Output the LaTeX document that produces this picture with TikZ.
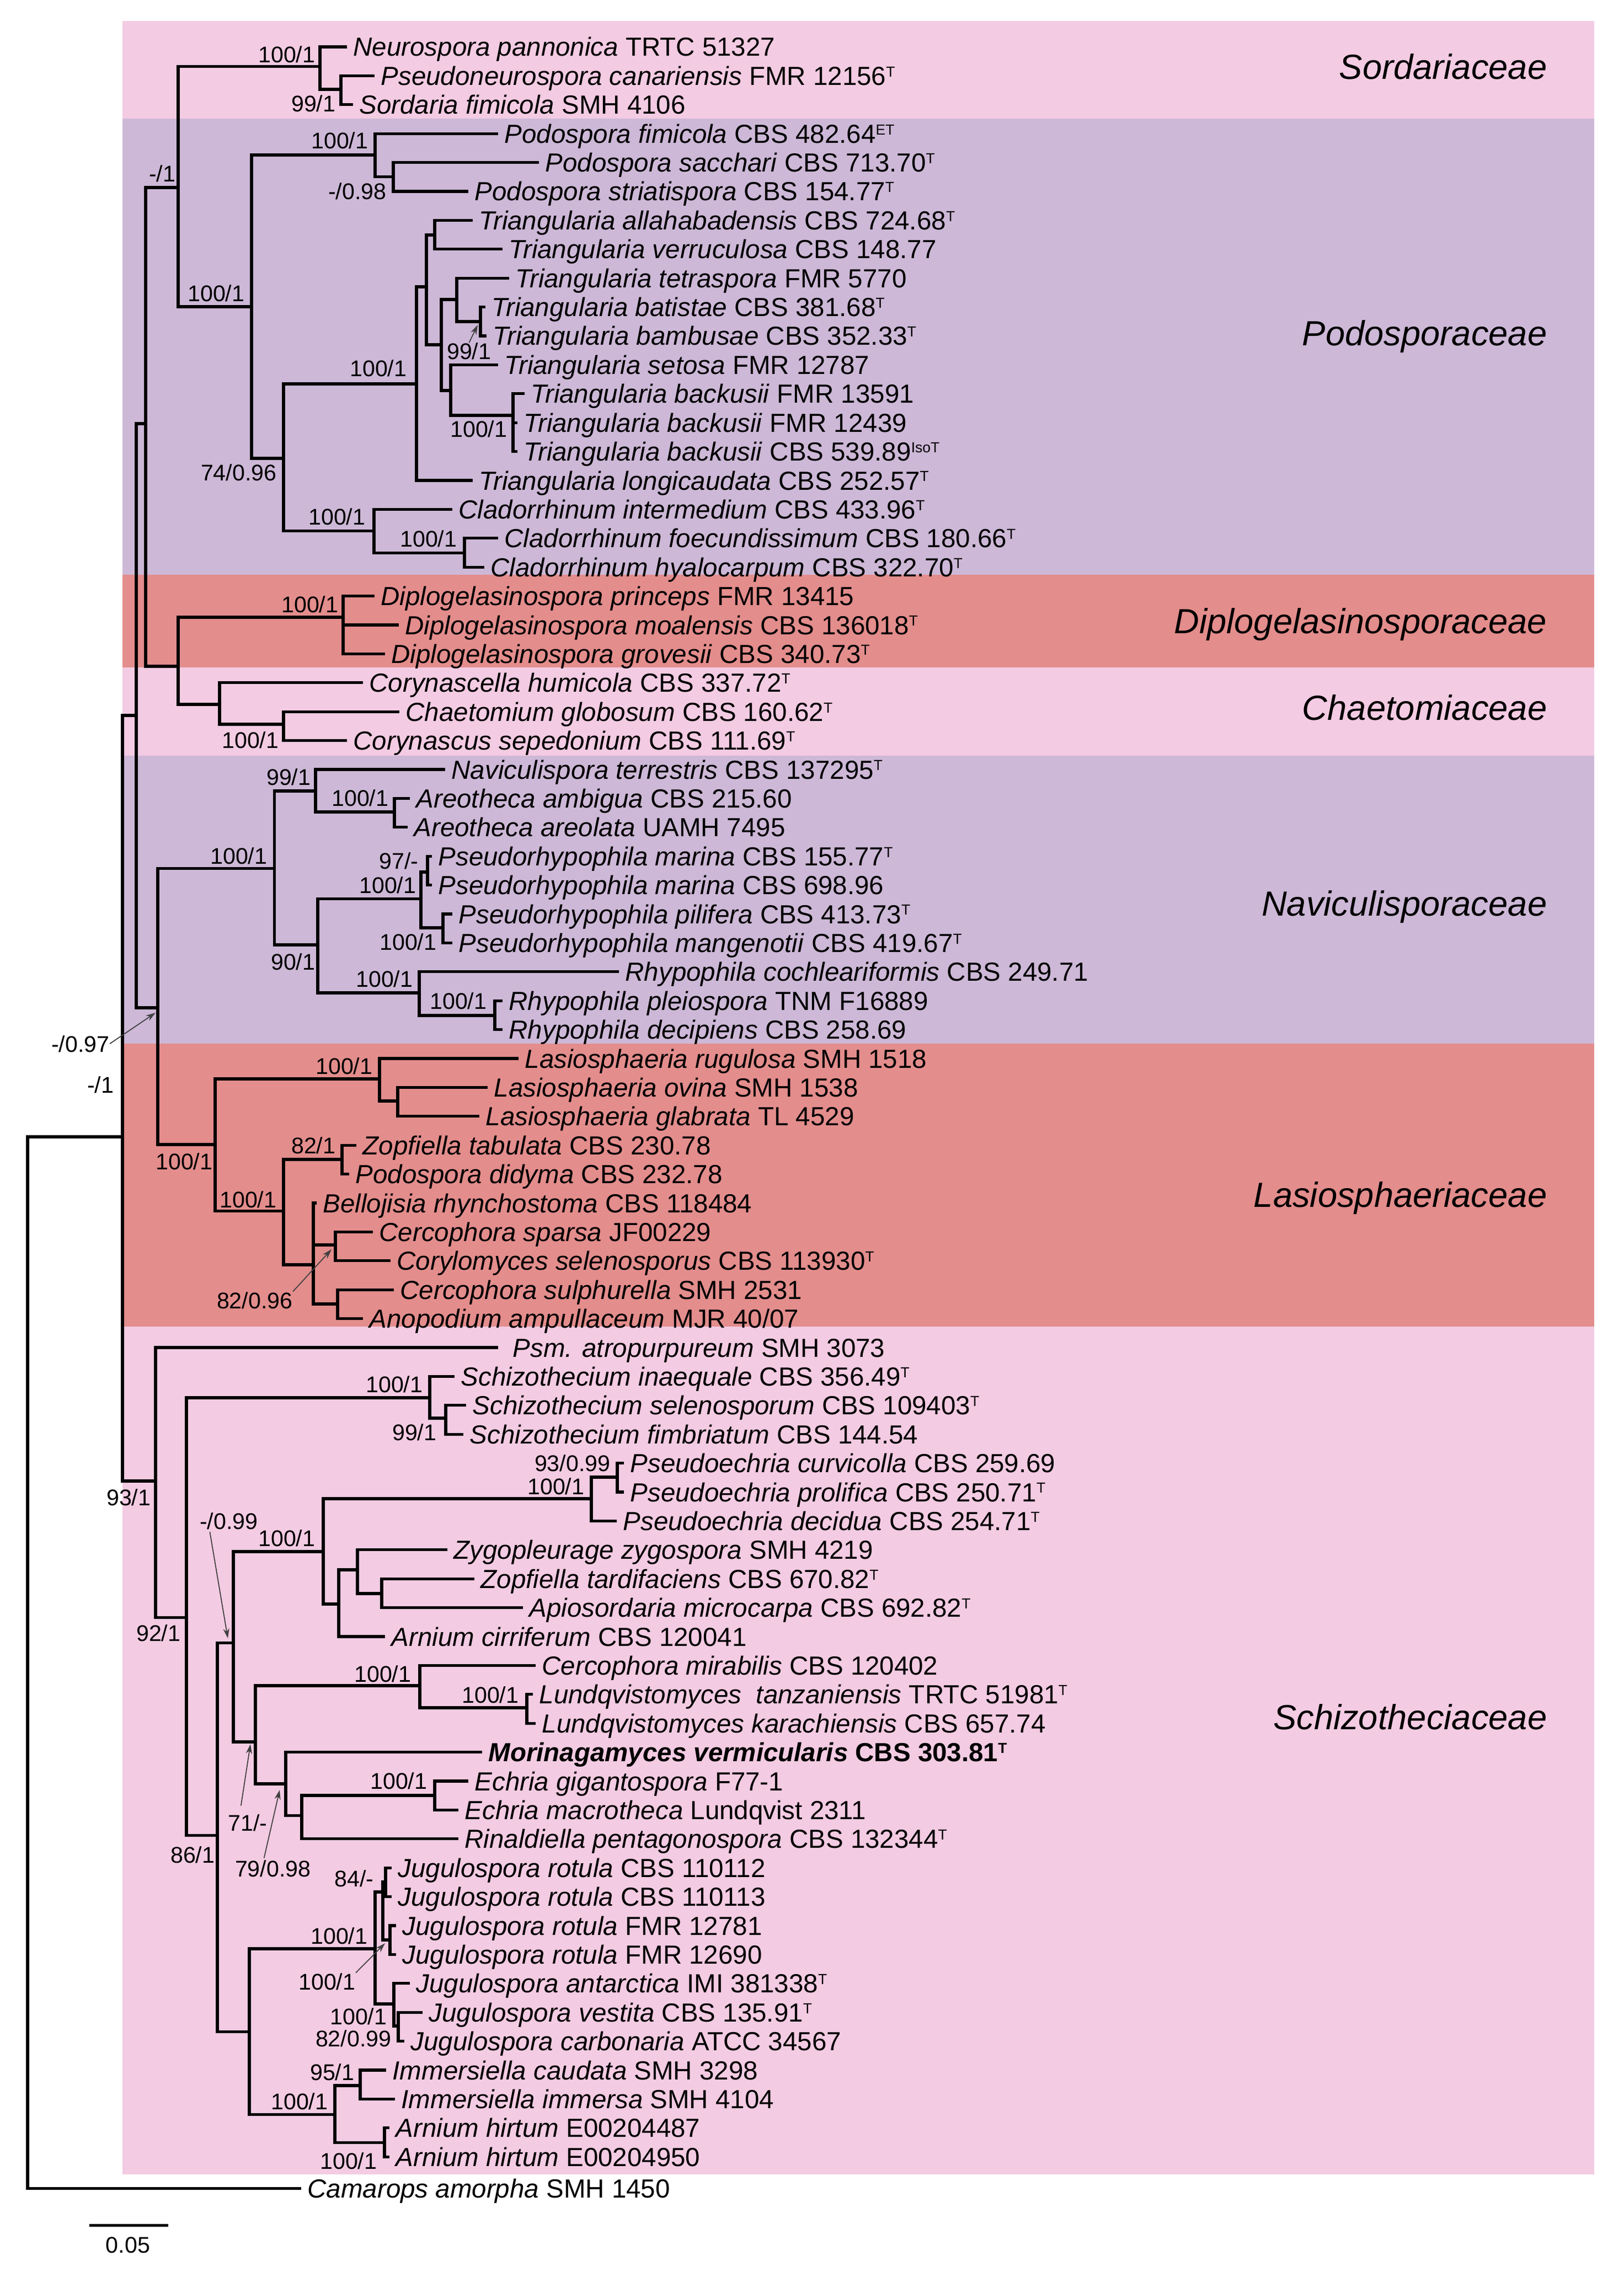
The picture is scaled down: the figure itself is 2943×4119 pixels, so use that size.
\documentclass[tikz,border=0pt]{standalone}
\usepackage{fontspec}
\setmainfont{Liberation Sans}
\usetikzlibrary{calc,arrows.meta}
\definecolor{bpink}{HTML}{F3CBE2}
\definecolor{blav}{HTML}{CDB8D7}
\definecolor{bsal}{HTML}{E38D8C}
\newcommand{\sps}[1]{\raisebox{4.3pt}{\fontsize{7.5}{8}\selectfont #1}}
\newcommand{\mynode}[4]{\coordinate (#1) at (#3,#4); \draw[br] (#2) |- (#1);}
\newcommand{\mytip}[5]{\coordinate (#1) at (#3,#4); \draw[br] (#2) |- (#1); \node[taxon] (#1t) at ($(#1)+(14,17)$) {#5};}
\begin{document}
\begin{tikzpicture}[x=0.01cm,y=-0.01cm,
  br/.style={line width=1.45pt, line join=miter, line cap=rect},
  taxon/.style={font=\fontsize{13.5}{16}\selectfont, inner sep=0pt, anchor=base west},
  lab/.style={font=\fontsize{11.7}{13}\selectfont, inner sep=0pt, anchor=base east},
  fam/.style={font=\fontsize{18}{21}\selectfont\itshape, inner sep=0pt, anchor=base east},
  arr/.style={line width=0.5pt, draw=black!75, -{Stealth[length=5pt,width=3.2pt]}}]
\useasboundingbox (0,0) rectangle (2943,4119);
\fill[white] (0,0) rectangle (2943,4119);
% family bands
\fill[bpink] (222,38) rectangle (2890,215);
\fill[blav] (222,215) rectangle (2890,1042);
\fill[bsal] (222,1042) rectangle (2890,1210);
\fill[bpink] (222,1210) rectangle (2890,1370);
\fill[blav] (222,1370) rectangle (2890,1891.5);
\fill[bsal] (222,1891.5) rectangle (2890,2404.5);
\fill[bpink] (222,2404.5) rectangle (2890,3942);
\node[fam] (fSor) at (2805,144) {Sordariaceae};
\node[fam] (fPod) at (2805,627) {Podosporaceae};
\node[fam] (fDip) at (2805,1148) {Diplogelasinosporaceae};
\node[fam] (fCha) at (2805,1305) {Chaetomiaceae};
\node[fam] (fNav) at (2805,1660) {Naviculisporaceae};
\node[fam] (fLas) at (2805,2188) {Lasiosphaeriaceae};
\node[fam] (fSch) at (2805,3135) {Schizotheciaceae};
% backbone
\coordinate (R) at (50,2061);
\mynode{ING}{R}{222}{2061}
\mynode{B}{ING}{247}{1297}
\mynode{C}{B}{264}{768}
\mynode{A}{C}{323}{340}
% Sordariaceae
\mynode{S1}{A}{580}{120.5}
\mynode{S2}{S1}{618}{162}
\mytip{t1}{S1}{626}{85}{\textit{Neurospora pannonica} TRTC 51327}
\mytip{t2}{S2}{676}{137.4}{\textit{Pseudoneurospora canariensis} FMR 12156\sps{T}}
\mytip{t3}{S2}{637}{189.8}{\textit{Sordaria fimicola} SMH 4106}
% Podosporaceae
\mynode{P0}{A}{456}{556}
\mynode{P1}{P0}{680}{281}
\mynode{P2}{P1}{713}{320.5}
\mynode{P3}{P0}{514}{831}
\mynode{T0}{P3}{755}{696}
\mynode{T1}{T0}{773}{520}
\mynode{Ta}{T1}{788}{426}
\mynode{Tb}{T1}{800}{625}
\mynode{Tc}{Tb}{828}{543}
\mynode{Td}{Tc}{871}{583}
\mynode{Te}{Tb}{817}{708}
\mynode{Tf}{Te}{930}{753}
\mynode{C1}{P3}{678}{962.5}
\mynode{C2}{C1}{842}{1002.7}
\mytip{t4}{P1}{900}{242.2}{\textit{Podospora fimicola} CBS 482.64\sps{ET}}
\mytip{t5}{P2}{974}{294.6}{\textit{Podospora sacchari} CBS 713.70\sps{T}}
\mytip{t6}{P2}{846}{347}{\textit{Podospora striatispora} CBS 154.77\sps{T}}
\mytip{t7}{Ta}{854}{399.4}{\textit{Triangularia allahabadensis} CBS 724.68\sps{T}}
\mytip{t8}{Ta}{908}{451.8}{\textit{Triangularia verruculosa} CBS 148.77}
\mytip{t9}{Tc}{920}{504.2}{\textit{Triangularia tetraspora} FMR 5770}
\mytip{t10}{Td}{877}{556.6}{\textit{Triangularia batistae} CBS 381.68\sps{T}}
\mytip{t11}{Td}{879}{609}{\textit{Triangularia bambusae} CBS 352.33\sps{T}}
\mytip{t12}{Te}{900}{661.4}{\textit{Triangularia setosa} FMR 12787}
\mytip{t13}{Tf}{948}{713.8}{\textit{Triangularia backusii} FMR 13591}
\mytip{t14}{Tf}{935}{766.2}{\textit{Triangularia backusii} FMR 12439}
\mytip{t15}{Tf}{935}{818.6}{\textit{Triangularia backusii} CBS 539.89\sps{IsoT}}
\mytip{t16}{T0}{854}{871}{\textit{Triangularia longicaudata} CBS 252.57\sps{T}}
\mytip{t17}{C1}{817}{923.4}{\textit{Cladorrhinum intermedium} CBS 433.96\sps{T}}
\mytip{t18}{C2}{900}{975.8}{\textit{Cladorrhinum foecundissimum} CBS 180.66\sps{T}}
\mytip{t19}{C2}{875}{1028.2}{\textit{Cladorrhinum hyalocarpum} CBS 322.70\sps{T}}
% Diplogelasinosporaceae + Chaetomiaceae
\mynode{D0}{C}{323}{1208}
\mynode{Dip}{D0}{622}{1119}
\mynode{Ch1}{D0}{398}{1277}
\mynode{Ch2}{Ch1}{514}{1313}
\mytip{t20}{Dip}{676}{1080.6}{\textit{Diplogelasinospora princeps} FMR 13415}
\mytip{t21}{Dip}{720}{1133}{\textit{Diplogelasinospora moalensis} CBS 136018\sps{T}}
\mytip{t22}{Dip}{695}{1185.4}{\textit{Diplogelasinospora grovesii} CBS 340.73\sps{T}}
\mytip{t23}{Ch1}{655}{1237.8}{\textit{Corynascella humicola} CBS 337.72\sps{T}}
\mytip{t24}{Ch2}{721}{1290.2}{\textit{Chaetomium globosum} CBS 160.62\sps{T}}
\mytip{t25}{Ch2}{626}{1342.6}{\textit{Corynascus sepedonium} CBS 111.69\sps{T}}
% Naviculisporaceae
\mynode{NL}{B}{286}{1827}
\mynode{N0}{NL}{497.5}{1574.5}
\mynode{N1}{N0}{572}{1434}
\mynode{N2}{N1}{715}{1472}
\mynode{N3}{N0}{576}{1713}
\mynode{N4}{N3}{763}{1629.5}
\mynode{N5}{N4}{775}{1581}
\mynode{N6}{N4}{803}{1682}
\mynode{N7}{N3}{760}{1800}
\mynode{N8}{N7}{897}{1841}
\mytip{t26}{N1}{804}{1395}{\textit{Naviculispora terrestris} CBS 137295\sps{T}}
\mytip{t27}{N2}{740}{1447.4}{\textit{Areotheca ambigua} CBS 215.60}
\mytip{t28}{N2}{736}{1499.8}{\textit{Areotheca areolata} UAMH 7495}
\mytip{t29}{N5}{780}{1552.2}{\textit{Pseudorhypophila marina} CBS 155.77\sps{T}}
\mytip{t30}{N5}{780}{1604.6}{\textit{Pseudorhypophila marina} CBS 698.96}
\mytip{t31}{N6}{817}{1657}{\textit{Pseudorhypophila pilifera} CBS 413.73\sps{T}}
\mytip{t32}{N6}{817}{1709.4}{\textit{Pseudorhypophila mangenotii} CBS 419.67\sps{T}}
\mytip{t33}{N7}{1119}{1761.8}{\textit{Rhypophila cochleariformis} CBS 249.71}
\mytip{t34}{N8}{908}{1814.2}{\textit{Rhypophila pleiospora} TNM F16889}
\mytip{t35}{N8}{908}{1866.6}{\textit{Rhypophila decipiens} CBS 258.69}
% Lasiosphaeriaceae
\mynode{L1}{NL}{390}{2075}
\mynode{L2}{L1}{688}{1956}
\mynode{L3}{L2}{721}{1996}
\mynode{L4}{L1}{514}{2195.5}
\mynode{L5}{L4}{620}{2102}
\mynode{L6}{L4}{568}{2293}
\mynode{L7}{L6}{608}{2257}
\mynode{L8}{L6}{612}{2364}
\mytip{t36}{L2}{937}{1919}{\textit{Lasiosphaeria rugulosa} SMH 1518}
\mytip{t37}{L3}{881}{1971.4}{\textit{Lasiosphaeria ovina} SMH 1538}
\mytip{t38}{L3}{866}{2023.8}{\textit{Lasiosphaeria glabrata} TL 4529}
\mytip{t39}{L5}{643}{2076.2}{\textit{Zopfiella tabulata} CBS 230.78}
\mytip{t40}{L5}{630}{2128.6}{\textit{Podospora didyma} CBS 232.78}
\mytip{t41}{L6}{571}{2181}{\textit{Bellojisia rhynchostoma} CBS 118484}
\mytip{t42}{L7}{673}{2233.4}{\textit{Cercophora sparsa} JF00229}
\mytip{t43}{L7}{705}{2285.8}{\textit{Corylomyces selenosporus} CBS 113930\sps{T}}
\mytip{t44}{L8}{711}{2338.2}{\textit{Cercophora sulphurella} SMH 2531}
\mytip{t45}{L8}{655}{2390.6}{\textit{Anopodium ampullaceum} MJR 40/07}
% Schizotheciaceae
\mynode{Z0}{ING}{282}{2685}
\mynode{Z1}{Z0}{338}{2932.6}
\mynode{SC0}{Z1}{779}{2534}
\mynode{SC1}{SC0}{808}{2571}
\mynode{Z2}{Z1}{394}{3327.6}
\mynode{Z3}{Z2}{423}{2978.6}
\mynode{Z4}{Z3}{586}{2813}
\mynode{Z5}{Z4}{1072}{2717}
\mynode{Z6}{Z5}{1119}{2678}
\mynode{Z7}{Z4}{614}{2908}
\mynode{Z8}{Z7}{648}{2846}
\mynode{Z9}{Z8}{692}{2889}
\mynode{Z10}{Z3}{463}{3158}
\mynode{Z11}{Z10}{761}{3056}
\mynode{Z12}{Z11}{955}{3096}
\mynode{Z13}{Z10}{518}{3234}
\mynode{Z14}{Z13}{547}{3291.6}
\mynode{Z15}{Z14}{788}{3255}
\mynode{Z16}{Z2}{452}{3683.5}
\mynode{J0}{Z16}{680}{3533}
\mynode{J1}{J0}{694}{3430}
\mynode{J2}{J1}{699}{3412}
\mynode{J3}{J1}{707}{3517}
\mynode{J4}{J0}{714}{3633}
\mynode{J5}{J4}{722}{3673}
\mynode{I0}{Z16}{607}{3833}
\mynode{I1}{I0}{653}{3781}
\mynode{I2}{I0}{697}{3884.7}
\coordinate (t46) at (900,2443); \draw[br] (Z0) |- (t46);
\node[taxon] (t46t) at ($(t46)+(29,17)$) {\textit{Psm. atropurpureum} SMH 3073};
\mytip{t47}{SC0}{821}{2495.4}{\textit{Schizothecium inaequale} CBS 356.49\sps{T}}
\mytip{t48}{SC1}{842}{2547.8}{\textit{Schizothecium selenosporum} CBS 109403\sps{T}}
\mytip{t49}{SC1}{837}{2600.2}{\textit{Schizothecium fimbriatum} CBS 144.54}
\mytip{t50}{Z6}{1128}{2652.6}{\textit{Pseudoechria curvicolla} CBS 259.69}
\mytip{t51}{Z6}{1128}{2705}{\textit{Pseudoechria prolifica} CBS 250.71\sps{T}}
\mytip{t52}{Z5}{1115}{2757.4}{\textit{Pseudoechria decidua} CBS 254.71\sps{T}}
\mytip{t53}{Z8}{808}{2809.8}{\textit{Zygopleurage zygospora} SMH 4219}
\mytip{t54}{Z9}{857}{2862.2}{\textit{Zopfiella tardifaciens} CBS 670.82\sps{T}}
\mytip{t55}{Z9}{945}{2914.6}{\textit{Apiosordaria microcarpa} CBS 692.82\sps{T}}
\mytip{t56}{Z7}{695}{2967}{\textit{Arnium cirriferum} CBS 120041}
\mytip{t57}{Z11}{968}{3019.4}{\textit{Cercophora mirabilis} CBS 120402}
\mytip{t58}{Z12}{963}{3071.8}{\textit{Lundqvistomyces\ \ tanzaniensis} TRTC 51981\sps{T}}
\mytip{t59}{Z12}{968}{3124.2}{\textit{Lundqvistomyces karachiensis} CBS 657.74}
\mytip{t60}{Z13}{871}{3176.6}{\textbf{\textit{Morinagamyces vermicularis} CBS 303.81\sps{T}}}
\mytip{t61}{Z15}{846}{3229}{\textit{Echria gigantospora} F77-1}
\mytip{t62}{Z15}{828}{3281.4}{\textit{Echria macrotheca} Lundqvist 2311}
\mytip{t63}{Z14}{828}{3333.8}{\textit{Rinaldiella pentagonospora} CBS 132344\sps{T}}
\mytip{t64}{J2}{707}{3386.2}{\textit{Jugulospora rotula} CBS 110112}
\mytip{t65}{J2}{707}{3438.6}{\textit{Jugulospora rotula} CBS 110113}
\mytip{t66}{J3}{715}{3491}{\textit{Jugulospora rotula} FMR 12781}
\mytip{t67}{J3}{715}{3543.4}{\textit{Jugulospora rotula} FMR 12690}
\mytip{t68}{J4}{740}{3595.8}{\textit{Jugulospora antarctica} IMI 381338\sps{T}}
\mytip{t69}{J5}{763}{3648.2}{\textit{Jugulospora vestita} CBS 135.91\sps{T}}
\mytip{t70}{J5}{730}{3700.6}{\textit{Jugulospora carbonaria} ATCC 34567}
\mytip{t71}{I1}{697}{3753}{\textit{Immersiella caudata} SMH 3298}
\mytip{t72}{I1}{713}{3805.4}{\textit{Immersiella immersa} SMH 4104}
\mytip{t73}{I2}{703}{3857.8}{\textit{Arnium hirtum} E00204487}
\mytip{t74}{I2}{703}{3910.2}{\textit{Arnium hirtum} E00204950}
% outgroup
\mytip{t75}{R}{543}{3967}{\textit{Camarops amorpha} SMH 1450}
% support values
\node[lab] (lS1) at (572,114) {100/1};
\node[lab] (lS2) at (609,203) {99/1};
\node[lab] (lA) at (319,330) {-/1};
\node[lab] (lP0) at (444,547) {100/1};
\node[lab] (lP1) at (668,270) {100/1};
\node[lab] (lP2) at (701,362) {-/0.98};
\node[lab] (lTd) at (891,652) {99/1};
\node[lab] (lT0) at (738,683) {100/1};
\node[lab] (lTf) at (920,793) {100/1};
\node[lab] (lP3) at (502,871) {74/0.96};
\node[lab] (lC1) at (663,951) {100/1};
\node[lab] (lC2) at (829,991) {100/1};
\node[lab] (lDip) at (614,1110) {100/1};
\node[lab] (lCh2) at (506,1356) {100/1};
\node[lab] (lN0) at (485,1566) {100/1};
\node[lab] (lN1) at (564,1423) {99/1};
\node[lab] (lN2) at (705,1461) {100/1};
\node[lab] (lN5) at (759,1575) {97/-};
\node[lab] (lN4) at (755,1619) {100/1};
\node[lab] (lN6) at (792,1722) {100/1};
\node[lab] (lN3) at (572,1758) {90/1};
\node[lab] (lN7) at (749,1789) {100/1};
\node[lab] (lN8) at (883,1829) {100/1};
\node[lab] (lNL) at (199,1907) {-/0.97};
\node[lab] (lING) at (207,1981) {-/1};
\node[lab] (lL1) at (386,2120) {100/1};
\node[lab] (lL2) at (676,1947) {100/1};
\node[lab] (lL4) at (502,2189) {100/1};
\node[lab] (lL5) at (609,2091) {82/1};
\node[lab] (lL7) at (531,2372) {82/0.96};
\node[lab] (lZ0) at (274,2729) {93/1};
\node[lab] (lSC0) at (767,2524) {100/1};
\node[lab] (lSC1) at (792,2611) {99/1};
\node[lab] (lZ1) at (328,2975) {92/1};
\node[lab] (lZ3) at (468,2772) {-/0.99};
\node[lab] (lZ4) at (572,2803) {100/1};
\node[lab] (lZ5) at (1060,2709) {100/1};
\node[lab] (lZ6) at (1107,2667) {93/0.99};
\node[lab] (lZ11) at (746,3049) {100/1};
\node[lab] (lZ12) at (941,3087) {100/1};
\node[lab] (lZ10) at (485,3319) {71/-};
\node[lab] (lZ13) at (564,3402) {79/0.98};
\node[lab] (lZ15) at (775,3243) {100/1};
\node[lab] (lZ2) at (390,3377) {86/1};
\node[lab] (lJ2) at (678,3420) {84/-};
\node[lab] (lJ0) at (667,3524) {100/1};
\node[lab] (lJ3) at (645,3607) {100/1};
\node[lab] (lJ4) at (702,3670) {100/1};
\node[lab] (lJ5) at (710,3710) {82/0.99};
\node[lab] (lI0) at (595,3824) {100/1};
\node[lab] (lI1) at (643,3771) {95/1};
\node[lab] (lI2) at (684,3932) {100/1};
% pointer arrows
\coordinate (aTd) at (866,589);
\draw[arr] (lTd.north) -- (aTd);
\coordinate (aNL) at (282,1836);
\draw[arr] (lNL.east) -- (aNL);
\coordinate (aL7) at (601,2265);
\draw[arr] (lL7.north east) -- (aL7);
\coordinate (aZ3) at (413,2970);
\draw[arr] ($(lZ3.south west)+(19,4)$) -- (aZ3);
\coordinate (aZ10) at (454,3162);
\draw[arr] ($(lZ10.north)+(-12,-15)$) -- (aZ10);
\coordinate (aZ13) at (507,3245);
\draw[arr] ($(lZ13.north)+(-16,-3)$) -- (aZ13);
\coordinate (aJ3) at (698,3523);
\draw[arr] (lJ3.north east) -- (aJ3);
% scale bar
\coordinate (sb1) at (162,4034);
\coordinate (sb2) at (305,4034);
\draw[line width=1.45pt] (sb1) -- (sb2);
\node[lab, anchor=base] (sbl) at (232,4084) {0.05};
\end{tikzpicture}
\end{document}
